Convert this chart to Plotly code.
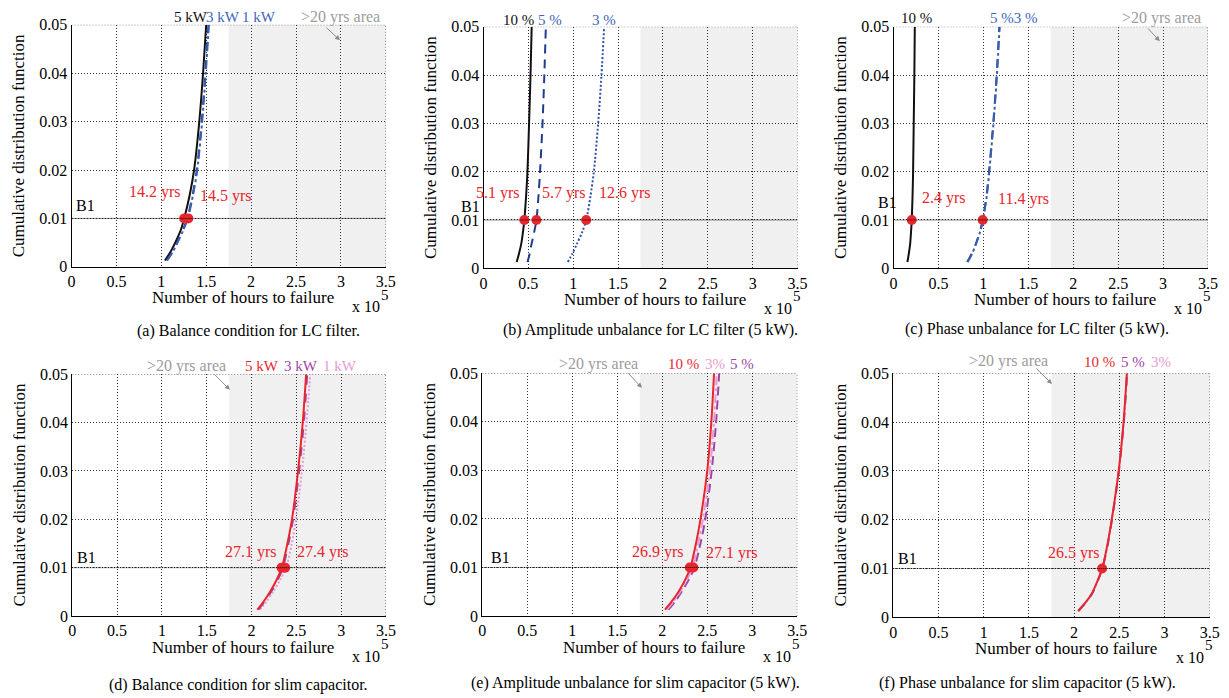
import plotly.graph_objects as go

W, H = 1229, 698
FONT = "Liberation Serif"
PAGE_OFFSET = 8  # browser body margin shifts the figure by this many px

# ---------------- data (hours to failure in units of 1e5 h) ----------------
cdf_levels = [0.0013, 0.003, 0.005, 0.0075, 0.01, 0.015, 0.02, 0.03, 0.04, 0.05]
b1_level = 0.01
shade_start = 1.75          # >20 yrs area start (x 1e5 h)
x_range = [0, 3.5]
y_range = [0, 0.05]
x_ticks = [0, 0.5, 1, 1.5, 2, 2.5, 3, 3.5]
x_ticklabels = ["0", "0.5", "1", "1.5", "2", "2.5", "3", "3.5"]
y_ticks = [0, 0.01, 0.02, 0.03, 0.04, 0.05]
y_ticklabels = ["0", "0.01", "0.02", "0.03", "0.04", "0.05"]

# (a) balance condition, LC filter
a_5kw = [1.04, 1.10, 1.155, 1.215, 1.255, 1.318, 1.365, 1.423, 1.465, 1.50]
a_3kw = [1.06, 1.12, 1.175, 1.238, 1.29, 1.35, 1.395, 1.45, 1.49, 1.525]
a_1kw = [1.065, 1.125, 1.18, 1.243, 1.295, 1.355, 1.40, 1.455, 1.495, 1.53]
a_dots = [1.255, 1.30]
# (b) amplitude unbalance, LC filter
b_10 = [0.37, 0.395, 0.42, 0.44, 0.455, 0.475, 0.49, 0.508, 0.524, 0.537]
b_5 = [0.49, 0.515, 0.535, 0.565, 0.59, 0.613, 0.63, 0.658, 0.678, 0.695]
b_3 = [0.94, 0.99, 1.04, 1.10, 1.145, 1.193, 1.23, 1.278, 1.315, 1.345]
b_dots = [0.455, 0.59, 1.145]
# (c) phase unbalance, LC filter
c_10 = [0.155, 0.17, 0.185, 0.195, 0.203, 0.212, 0.218, 0.225, 0.232, 0.237]
c_5 = [0.82, 0.87, 0.915, 0.96, 0.993, 1.035, 1.063, 1.11, 1.148, 1.178]
c_3 = [0.825, 0.874, 0.918, 0.963, 0.996, 1.038, 1.066, 1.113, 1.151, 1.181]
c_dots = [0.203, 0.993]
# (d) balance condition, slim capacitor
d_5kw = [2.064, 2.135, 2.207, 2.28, 2.338, 2.40, 2.451, 2.519, 2.571, 2.609]
d_3kw = [2.075, 2.147, 2.218, 2.292, 2.35, 2.412, 2.463, 2.531, 2.583, 2.621]
d_1kw = [2.094, 2.168, 2.24, 2.32, 2.385, 2.45, 2.495, 2.562, 2.613, 2.655]
d_dots = [2.335, 2.375]
# (e) amplitude unbalance, slim capacitor
e_10 = [2.03, 2.105, 2.18, 2.255, 2.312, 2.375, 2.425, 2.50, 2.545, 2.575]
e_3 = [2.05, 2.125, 2.198, 2.275, 2.335, 2.40, 2.452, 2.528, 2.574, 2.605]
e_5 = [2.068, 2.143, 2.215, 2.295, 2.357, 2.425, 2.478, 2.549, 2.598, 2.632]
e_dots = [2.305, 2.345]
# (f) phase unbalance, slim capacitor
f_10 = [2.044, 2.125, 2.20, 2.26, 2.31, 2.37, 2.416, 2.493, 2.547, 2.584]
f_5 = [2.047, 2.128, 2.203, 2.263, 2.313, 2.373, 2.419, 2.496, 2.55, 2.587]
f_3 = [2.046, 2.127, 2.202, 2.262, 2.312, 2.372, 2.418, 2.495, 2.549, 2.586]
f_dots = [2.31]

# ---------------- styles ----------------
RED = "#e8262d"
BLACK = "#111111"
NAVY = "#1f3d8f"
BLUE_TXT = "#3d66b8"
PURPLE = "#a044a8"
PINK = "#e79bd2"
GRAY_TXT = "#9c9c9c"
SHADE = "#f0f0f0"
GRID = "#333333"


def px(x):
    return (x - PAGE_OFFSET) / W


def py(y):
    return 1 - (y - PAGE_OFFSET) / H


# panel pixel boxes: (left, top, right, bottom)
panels = [
    dict(box=(71.5, 24.8, 385.8, 266.8),
         curves=[(a_5kw, BLACK, "solid"), (a_3kw, NAVY, "dash"), (a_1kw, "#3a5fb0", "dashdot")],
         dots=a_dots,
         top=[("5 kW", 1.336, BLACK), ("3 kW", 1.69, BLUE_TXT), ("1 kW", 2.09, BLUE_TXT)],
         top_y=0.0517,
         area=(3.0, 0.0516), arrow=(2.99, 0.0468, -15, -14),
         yrs=[("14.2 yrs", 0.93, 0.0154), ("14.5 yrs", 1.72, 0.0146)],
         b1=(0.16, 0.0127),
         caption="(a) Balance condition for LC filter.", cap=(248, 331)),
    dict(box=(483.5, 26.7, 797.5, 268.3),
         curves=[(b_10, BLACK, "solid"), (b_5, NAVY, "9px,6px"), (b_3, "#2f50a8", "2px,2px")],
         dots=b_dots,
         top=[("10 %", 0.39, BLACK), ("5 %", 0.745, BLUE_TXT), ("3 %", 1.346, BLUE_TXT)],
         top_y=0.0514,
         area=None, arrow=None,
         yrs=[("5.1 yrs", 0.16, 0.0156), ("5.7 yrs", 0.895, 0.0156), ("12.6 yrs", 1.574, 0.0156)],
         b1=(-0.14, 0.0127),
         caption="(b) Amplitude unbalance for LC filter (5 kW).", cap=(650, 330)),
    dict(box=(893.5, 26.7, 1208.0, 268.3),
         curves=[(c_10, BLACK, "solid"), (c_5, NAVY, "dash"), (c_3, "#3a5fb0", "dashdot")],
         dots=c_dots,
         top=[("10 %", 0.256, BLACK), ("5 %3 %", 1.346, BLUE_TXT)],
         top_y=0.0518,
         area=(2.98, 0.0518), arrow=(2.964, 0.047, -13, -14),
         yrs=[("2.4 yrs", 0.562, 0.01455), ("11.4 yrs", 1.45, 0.0143)],
         b1=(-0.07, 0.0137),
         caption="(c) Phase unbalance for LC filter (5 kW).", cap=(1037, 329)),
    dict(box=(72.3, 374.3, 386.0, 616.0),
         curves=[(d_1kw, PINK, "2px,2px"), (d_3kw, PURPLE, "dash"), (d_5kw, RED, "solid")],
         dots=d_dots,
         top=[("5 kW", 2.12, RED), ("3 kW", 2.555, PURPLE), ("1 kW", 2.984, PINK)],
         top_y=0.0518,
         area=(1.273, 0.0518), arrow=(1.758, 0.0468, -17, -17),
         yrs=[("27.1 yrs", 1.99, 0.0132), ("27.4 yrs", 2.795, 0.0132)],
         b1=(0.164, 0.012),
         caption="(d) Balance condition for slim capacitor.", cap=(238, 685)),
    dict(box=(482.3, 373.3, 797.3, 616.0),
         curves=[(e_5, PURPLE, "9px,5px"), (e_3, PINK, "dashdot"), (e_10, RED, "solid")],
         dots=e_dots,
         top=[("10 %", 2.235, RED), ("3%", 2.585, PINK), ("5 %", 2.88, PURPLE)],
         top_y=0.0519,
         area=(1.29, 0.0519), arrow=(1.774, 0.047, -15, -16),
         yrs=[("26.9 yrs", 1.952, 0.0132), ("27.1 yrs", 2.774, 0.013)],
         b1=(0.197, 0.012),
         caption="(e) Amplitude unbalance for slim capacitor (5 kW).", cap=(635, 683)),
    dict(box=(893.3, 373.3, 1209.7, 617.3),
         curves=[(f_3, PINK, "dashdot"), (f_5, PURPLE, "dash"), (f_10, RED, "solid")],
         dots=f_dots,
         top=[("10 %", 2.28, RED), ("5 %", 2.657, PURPLE), ("3%", 2.96, PINK)],
         top_y=0.0524,
         area=(1.274, 0.0525), arrow=(1.755, 0.0478, -17, -17),
         yrs=[("26.5 yrs", 2.0, 0.0132)],
         b1=(0.162, 0.012),
         caption="(f) Phase unbalance for slim capacitor (5 kW).", cap=(1028, 683)),
]

fig = go.Figure()
layout = dict(width=W, height=H,
              margin=dict(l=0, r=0, t=0, b=0, pad=0, autoexpand=False),
              paper_bgcolor="white", plot_bgcolor="white", showlegend=False,
              font=dict(family=FONT, size=16, color="black"))
shapes = []
annotations = []


def ann(text, x, y, xref, yref, size, color, **kw):
    d = dict(text=text, x=x, y=y, xref=xref, yref=yref, showarrow=False,
             xanchor="center", yanchor="middle",
             font=dict(family=FONT, size=size, color=color))
    d.update(kw)
    return d


def dom_x(v):
    return (v - x_range[0]) / (x_range[1] - x_range[0])


def dom_y(v):
    return (v - y_range[0]) / (y_range[1] - y_range[0])


for i, p in enumerate(panels):
    k = i + 1
    xa = "x" if k == 1 else f"x{k}"
    ya = "y" if k == 1 else f"y{k}"
    xd, yd = f"{xa} domain", f"{ya} domain"
    l, t, r, b = p["box"]
    xkey = "xaxis" if k == 1 else f"xaxis{k}"
    ykey = "yaxis" if k == 1 else f"yaxis{k}"
    common = dict(showgrid=True, gridcolor=GRID, griddash="1px,2px", gridwidth=1,
                  showline=True, linecolor="black", linewidth=1, zeroline=False,
                  ticks="", automargin=False,
                  tickfont=dict(family=FONT, size=16, color="black"), fixedrange=True)
    layout[xkey] = dict(domain=[px(l), px(r)], anchor=ya, range=x_range,
                        tickvals=x_ticks, ticktext=x_ticklabels, **common)
    layout[ykey] = dict(domain=[py(b), py(t)], anchor=xa, range=y_range,
                        tickvals=y_ticks, ticktext=y_ticklabels, **common)
    # shaded >20 yrs area
    shapes.append(dict(type="rect", xref=xa, yref=ya, x0=shade_start, x1=x_range[1],
                       y0=y_range[0], y1=y_range[1], fillcolor=SHADE,
                       line=dict(width=0), layer="below"))
    # top / right dotted border
    shapes.append(dict(type="line", xref=xa, yref=ya, x0=x_range[0], x1=x_range[1],
                       y0=y_range[1], y1=y_range[1],
                       line=dict(color=GRID, width=1, dash="1px,2px")))
    shapes.append(dict(type="line", xref=xa, yref=ya, x0=x_range[1], x1=x_range[1],
                       y0=y_range[0], y1=y_range[1],
                       line=dict(color=GRID, width=1, dash="1px,2px")))
    # B1 line
    shapes.append(dict(type="line", xref=xa, yref=ya, x0=x_range[0], x1=x_range[1],
                       y0=b1_level, y1=b1_level,
                       line=dict(color="black", width=1, dash="1px,1px")))

    for xs, col, dash in p["curves"]:
        fig.add_trace(go.Scatter(x=xs, y=cdf_levels, mode="lines", xaxis=xa, yaxis=ya,
                                 line=dict(color=col, width=2, dash=dash,
                                           shape="spline", smoothing=0.8),
                                 hoverinfo="skip"))
    fig.add_trace(go.Scatter(x=p["dots"], y=[b1_level] * len(p["dots"]), mode="markers",
                             xaxis=xa, yaxis=ya, marker=dict(color=RED, size=10),
                             hoverinfo="skip"))

    for txt, xv, col in p["top"]:
        annotations.append(ann(txt, dom_x(xv), dom_y(p["top_y"]), xd, yd, 15, col))
    if p["area"]:
        annotations.append(ann(">20 yrs area", dom_x(p["area"][0]), dom_y(p["area"][1]),
                               xd, yd, 16, GRAY_TXT))
    if p["arrow"]:
        hx, hy, axo, ayo = p["arrow"]
        annotations.append(dict(text="", x=dom_x(hx), y=dom_y(hy), xref=xd, yref=yd,
                                showarrow=True, ax=axo, ay=ayo, arrowhead=2, arrowsize=1,
                                arrowwidth=1, arrowcolor="#8a8a8a"))
    for txt, xv, yv in p["yrs"]:
        annotations.append(ann(txt, dom_x(xv), dom_y(yv), xd, yd, 16, RED))
    annotations.append(ann("B1", dom_x(p["b1"][0]), dom_y(p["b1"][1]), xd, yd, 16, "black"))
    # axis titles and captions
    annotations.append(ann("Number of hours to failure", px((l + r) / 2 + 14), py(b + 31),
                           "paper", "paper", 17, "black"))
    annotations.append(ann("x 10", px(r - 20), py(b + 40), "paper", "paper", 16, "black"))
    annotations.append(ann("5", px(r - 1), py(b + 28), "paper", "paper", 15, "black"))
    annotations.append(ann("Cumulative distribution function", px(l - 53), py((t + b) / 2),
                           "paper", "paper", 17, "black", textangle=-90))
    annotations.append(ann(p["caption"], px(p["cap"][0]), py(p["cap"][1]),
                           "paper", "paper", 16, "black"))

layout["shapes"] = shapes
layout["annotations"] = annotations
fig.update_layout(**layout)
fig.write_html("out.html")
